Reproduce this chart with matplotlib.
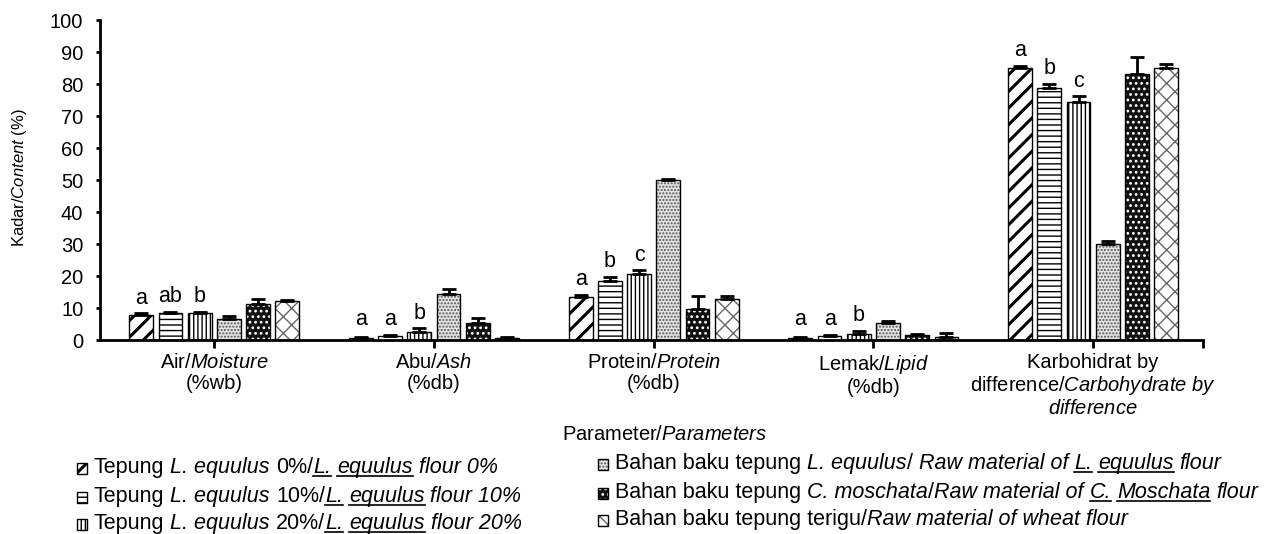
import numpy as np
import matplotlib
matplotlib.use('Agg')
import matplotlib.pyplot as plt
from matplotlib.patches import Rectangle
from matplotlib.lines import Line2D

plt.rcParams['font.family'] = ['Liberation Sans', 'DejaVu Sans']
plt.rcParams['mathtext.fontset'] = 'custom'
plt.rcParams['mathtext.rm'] = 'Liberation Sans'
plt.rcParams['mathtext.it'] = 'Liberation Sans:italic'

# data
params = ['Air/$\\it{Moisture}$\n(%wb)',
          'Abu/$\\it{Ash}$\n(%db)',
          'Protein/$\\it{Protein}$\n(%db)',
          'Lemak/$\\it{Lipid}$\n(%db)',
          'Karbohidrat by\ndifference/$\\it{Carbohydrate\\ by}$\n$\\it{difference}$']

flour0 = [7.7, 0.6, 13.5, 0.7, 84.9]
flour10 = [8.3, 1.2, 18.3, 1.4, 78.8]
flour20 = [8.4, 2.6, 20.5, 1.9, 74.4]
raw_lequulus = [6.5, 14.3, 49.9, 5.4, 30.0]
raw_cmoschata = [11.3, 5.3, 9.6, 1.5, 83.0]
raw_wheat = [12.2, 0.5, 12.8, 1.0, 84.9]

err0 = [0.6, 0.2, 0.7, 0.3, 0.7]
err10 = [0.6, 0.5, 1.4, 0.3, 1.2]
err20 = [0.4, 1.1, 1.3, 0.9, 1.8]
err_lequulus = [1.0, 1.6, 0.5, 0.6, 1.0]
err_cmoschata = [1.5, 1.6, 4.1, 0.5, 5.3]
err_wheat = [0.3, 0.3, 1.1, 1.2, 1.2]

letters0 = ['a', 'a', 'a', 'a', 'a']
letters10 = ['ab', 'a', 'b', 'a', 'b']
letters20 = ['b', 'b', 'c', 'b', 'c']

series = [flour0, flour10, flour20, raw_lequulus, raw_cmoschata, raw_wheat]
errors = [err0, err10, err20, err_lequulus, err_cmoschata, err_wheat]
letters = [letters0, letters10, letters20]

# (facecolor, hatch colour, hatch, hatch linewidth)
styles = [('white', 'black', '//', 2.2),
          ('white', 'black', '---', 1.0),
          ('white', 'black', '||||', 1.0),
          ('#e4e4e4', '#555555', '.....', 1.0),
          ('#111111', 'white', '...', 1.2),
          ('white', '#666666', 'xx', 1.0)]

W, H = 1270, 534
fig = plt.figure(figsize=(W / 100, H / 100), dpi=100)
ax = fig.add_axes([100 / W, (H - 340) / H, 1103 / W, 320 / H])

x = np.arange(len(params))
pitch = 0.133
width = 0.108


def hatched(p, lw):
    if hasattr(p, 'set_hatch_linewidth'):
        p.set_hatch_linewidth(lw)


for i, (vals, err) in enumerate(zip(series, errors)):
    fc, hc, h, hlw = styles[i]
    pos = x + (i - 2.5) * pitch
    plt.rcParams['hatch.linewidth'] = hlw
    bars = ax.bar(pos, vals, width, color=fc, edgecolor=hc, hatch=h, linewidth=0)
    for b in bars:
        hatched(b, hlw)
    ax.bar(pos, vals, width, fill=False, edgecolor='black', linewidth=1)
    ax.errorbar(pos, vals, yerr=[np.zeros(len(vals)), err], fmt='none',
                ecolor='black', elinewidth=2, capsize=5, capthick=2)
    if i < 3:
        for xp, v, e, lab in zip(pos, vals, err, letters[i]):
            ax.text(xp, max(v + e + 3, 4.7), lab, ha='center', va='baseline', fontsize=15.5)

ax.set_xlim(-0.52, 4.5)
ax.set_ylim(0, 100)
ax.set_yticks(np.arange(0, 101, 10))
ax.set_xticks(list(x) + [4.5])
ax.set_xticklabels(params + [''], fontsize=14.5, linespacing=1.15)
ax.tick_params(axis='y', labelsize=14.5, length=3, width=2, pad=9)
ax.tick_params(axis='x', length=6, width=2, pad=3)
for s in ['top', 'right']:
    ax.spines[s].set_visible(False)
for s in ['left', 'bottom']:
    ax.spines[s].set_linewidth(2)

fig.text(20 / W, 1 - 178 / H, 'Kadar/$\\it{Content}$ (%)', rotation=90,
         ha='center', va='center', fontsize=12)
fig.text(665 / W, 1 - 435 / H, 'Parameter/$\\it{Parameters}$',
         ha='center', va='center', fontsize=14.5)

# legend drawn by hand so parts can be italic and underlined
renderer = fig.canvas.get_renderer()
lsize = 15.5
t1 = fig.text(0, 0, 'a a', fontsize=lsize)
t2 = fig.text(0, 0, 'aa', fontsize=lsize)
space_w = t1.get_window_extent(renderer).width - t2.get_window_extent(renderer).width
t1.remove()
t2.remove()


def legend_row(x0, y_top, idx, pieces):
    fc, hc, h, hlw = styles[idx]
    yb = H - y_top
    plt.rcParams['hatch.linewidth'] = hlw
    r = Rectangle((x0 / W, (yb - 1) / H), 10 / W, 11 / H, transform=fig.transFigure,
                  facecolor=fc, edgecolor=hc, hatch=h, linewidth=0)
    hatched(r, hlw)
    fig.add_artist(r)
    fig.add_artist(Rectangle((x0 / W, (yb - 1) / H), 10 / W, 11 / H, transform=fig.transFigure,
                             fill=False, edgecolor='black', linewidth=1))
    cx = x0 + 17
    for txt, ital, ul in pieces:
        core = txt.strip(' ')
        if not core:
            cx += len(txt) * space_w
            continue
        lead = len(txt) - len(txt.lstrip(' '))
        trail = len(txt) - len(txt.rstrip(' '))
        cx += lead * space_w
        t = fig.text(cx / W, yb / H, core, fontsize=lsize,
                     style='italic' if ital else 'normal', va='baseline')
        bb = t.get_window_extent(renderer)
        if ul:
            fig.add_artist(Line2D([bb.x0 / W, bb.x1 / W], [(yb - 3) / H] * 2,
                                  transform=fig.transFigure, color='black', lw=1.2))
        cx = bb.x1 + trail * space_w


def lequulus_row(pct):
    return [('Tepung ', False, False), ('L. equulus', True, False), (' %d%%/' % pct, False, False),
            ('L.', True, True), (' ', True, False), ('equulus', True, True),
            (' flour %d%%' % pct, True, False)]


legend_row(77, 473, 0, lequulus_row(0))
legend_row(77, 502, 1, lequulus_row(10))
legend_row(77, 529, 2, lequulus_row(20))
legend_row(598, 469, 3, [('Bahan baku tepung ', False, False), ('L. equulus', True, False),
                         ('/ ', False, False), ('Raw material of ', True, False),
                         ('L.', True, True), (' ', True, False), ('equulus', True, True),
                         (' flour', True, False)])
legend_row(598, 498, 4, [('Bahan baku tepung ', False, False), ('C. moschata', True, False),
                         ('/', False, False), ('Raw material of ', True, False),
                         ('C.', True, True), (' ', True, False), ('Moschata', True, True),
                         (' flour', True, False)])
legend_row(598, 525, 5, [('Bahan baku tepung terigu/', False, False),
                         ('Raw material of wheat flour', True, False)])

fig.savefig('out.png', dpi=100)
